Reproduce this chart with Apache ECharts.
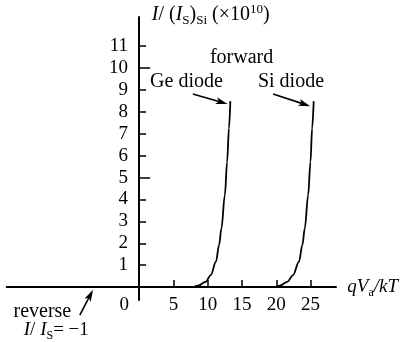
<!DOCTYPE html>
<html>
<head>
<meta charset="utf-8">
<script src="https://cdn.jsdelivr.net/npm/echarts@6/dist/echarts.min.js"></script>
<style>
  html, body { margin: 0; padding: 0; background: #fff; }
  #chart { width: 401px; height: 342px; }
</style>
</head>
<body>
<div id="chart"></div>
<script>
// Axis ticks and labels
const xTickValues = [5, 10, 15, 20, 25];
const xLabelValues = [5, 10, 15, 20, 25];
const originLabel = '0';
const yTickValues = [1, 2, 3, 4, 5, 6, 7, 8, 9, 10, 11];
const yLabelValues = [1, 2, 3, 4, 5, 6, 7, 8, 9, 10, 11];
const yMajorTickValues = [5, 10];

// Forward characteristics: qVa/kT against I/(Is)Si in units of 1e10
const geVoltage = [8.0, 8.6, 9.7, 10.45, 11.2, 11.66, 12.0, 12.5, 12.83, 13.1, 13.3];
const geCurrent = [0, 0.06, 0.24, 0.55, 1.16, 1.92, 2.68, 4.2, 5.72, 7.25, 8.49];
const siVoltage = [20.0, 20.5, 21.6, 22.45, 23.3, 23.8, 24.15, 24.64, 24.98, 25.22, 25.45];
const siCurrent = [0, 0.06, 0.24, 0.55, 1.16, 1.92, 2.68, 4.2, 5.72, 7.25, 8.49];

const FONT = '"Liberation Serif", "Times New Roman", serif';
const FS = 19;
const X_LABEL_MARGIN = 8;
const Y_LABEL_MARGIN = 11;

// Axis extents and plot box
const X_MIN = -19.3, X_MAX = 28.7;
const Y_MIN = -0.59, Y_MAX = 12.33;
const W = 401;
const GRID = { left: 6.7, right: 65, top: 17, bottom: 42 };
const gridW = W - GRID.left - GRID.right;

// Offset that carries the extra tick axis from the plot edge to x = 0
const yAxisShift = -((0 - X_MIN) / (X_MAX - X_MIN)) * gridW;

const chart = echarts.init(document.getElementById('chart'), null, { renderer: 'canvas' });

const pairs = (xs, ys) => xs.map((x, i) => [x, ys[i]]);
const curveStyle = { color: '#000', width: 1.8 };
const tickStyle = { color: '#000', width: 1.5 };

chart.setOption({
  animation: false,
  backgroundColor: '#fff',
  grid: Object.assign({ containLabel: false, outerBoundsMode: 'none' }, GRID),
  xAxis: {
    type: 'value',
    min: X_MIN,
    max: X_MAX,
    splitLine: { show: false },
    axisLine: { onZero: true, lineStyle: { color: '#000', width: 2 } },
    axisTick: { customValues: xTickValues, inside: true, length: 7, lineStyle: tickStyle },
    axisLabel: { show: false }
  },
  yAxis: [
    {
      type: 'value',
      min: Y_MIN,
      max: Y_MAX,
      splitLine: { show: false },
      axisLine: { onZero: true, lineStyle: { color: '#000', width: 2 } },
      axisTick: { customValues: yTickValues, inside: true, length: 7, lineStyle: tickStyle },
      axisLabel: { show: false }
    },
    {
      // longer ticks at 5 and 10 on the same vertical axis
      type: 'value',
      min: Y_MIN,
      max: Y_MAX,
      position: 'left',
      offset: yAxisShift,
      splitLine: { show: false },
      axisLine: { show: false, onZero: false },
      axisTick: { customValues: yMajorTickValues, inside: true, length: 11, lineStyle: tickStyle },
      axisLabel: { show: false }
    }
  ],
  series: [
    {
      name: 'Ge diode', type: 'line', data: pairs(geVoltage, geCurrent),
      smooth: 0.35, smoothMonotone: 'x', showSymbol: false, lineStyle: curveStyle
    },
    {
      name: 'Si diode', type: 'line', data: pairs(siVoltage, siCurrent),
      smooth: 0.35, smoothMonotone: 'x', showSymbol: false, lineStyle: curveStyle
    }
  ]
});

// Annotation anchors, in axis units
const arrows = [
  { from: [7.83, 8.81], to: [12.9, 8.36] },
  { from: [19.53, 8.81], to: [24.95, 8.26] },
  { from: [-8.64, -1.28], to: [-6.71, -0.12] }
];

function richFor(size) {
  const sub = Math.round(size * 0.65);
  return {
    n: { fontFamily: FONT, fontSize: size, fill: '#000' },
    i: { fontFamily: FONT, fontSize: size, fontStyle: 'italic', fill: '#000' },
    sub: { fontFamily: FONT, fontSize: sub, fill: '#000', padding: [12, 0, 0, 0] },
    sup: { fontFamily: FONT, fontSize: sub, fill: '#000', padding: [0, 0, 10, 0] }
  };
}

const labels = [
  { at: [14.93, 10.49], align: 'center', size: 20, text: '{n|forward}' },
  { at: [6.9, 9.37], align: 'center', size: 20, text: '{n|Ge diode}' },
  { at: [22.14, 9.37], align: 'center', size: 20, text: '{n|Si diode}' },
  { at: [1.85, 12.42], align: 'left', size: 20, text: '{i|I}{n|/ (}{i|I}{sub|S}{n|)}{sub|Si}{n| (×10}{sup|10}{n|)}' },
  { at: [30.35, 0.0], align: 'left', size: 19, text: '{i|qV}{sub|a}{i|/kT}' },
  { at: [-14.1, -1.14], align: 'center', size: 20, text: '{n|reverse}' },
  { at: [-12.07, -1.96], align: 'center', size: 19, text: '{i|I}{n|/ }{i|I}{sub|S}{n|= −1}' }
];

function arrowShapes(p0, p1) {
  const a = chart.convertToPixel({ gridIndex: 0 }, p0);
  const b = chart.convertToPixel({ gridIndex: 0 }, p1);
  const dx = b[0] - a[0], dy = b[1] - a[1];
  const len = Math.hypot(dx, dy);
  const ux = dx / len, uy = dy / len;
  const nx = -uy, ny = ux;
  const hl = 12, hw = 3.5, notch = 3;
  const bx = b[0] - ux * hl, by = b[1] - uy * hl;
  return [
    {
      type: 'line', silent: true,
      shape: { x1: a[0], y1: a[1], x2: b[0] - ux * (hl - notch), y2: b[1] - uy * (hl - notch) },
      style: { stroke: '#000', lineWidth: 1.6 }
    },
    {
      type: 'polygon', silent: true,
      shape: { points: [
        [b[0], b[1]],
        [bx + nx * hw, by + ny * hw],
        [b[0] - ux * (hl - notch), b[1] - uy * (hl - notch)],
        [bx - nx * hw, by - ny * hw]
      ] },
      style: { fill: '#000' }
    }
  ];
}

const graphics = [];
arrows.forEach(a => graphics.push(...arrowShapes(a.from, a.to)));
labels.forEach(l => {
  const p = chart.convertToPixel({ gridIndex: 0 }, l.at);
  graphics.push({
    type: 'text', silent: true, x: p[0], y: p[1],
    style: { text: l.text, rich: richFor(l.size), align: l.align, verticalAlign: 'middle', fill: '#000' }
  });
});

// Tick numbers, placed through the scales next to the crossing axes
const tickFont = FS + 'px ' + FONT;
const origin = chart.convertToPixel({ gridIndex: 0 }, [0, 0]);
xLabelValues.forEach(v => {
  const p = chart.convertToPixel({ gridIndex: 0 }, [v, 0]);
  graphics.push({
    type: 'text', silent: true, x: p[0], y: origin[1] + X_LABEL_MARGIN,
    style: { text: String(v), font: tickFont, align: 'center', verticalAlign: 'top', fill: '#000' }
  });
});
yLabelValues.forEach(v => {
  const p = chart.convertToPixel({ gridIndex: 0 }, [0, v]);
  graphics.push({
    type: 'text', silent: true, x: origin[0] - Y_LABEL_MARGIN, y: p[1],
    style: { text: String(v), font: tickFont, align: 'right', verticalAlign: 'middle', fill: '#000' }
  });
});
graphics.push({
  type: 'text', silent: true, x: origin[0] - 10, y: origin[1] + X_LABEL_MARGIN,
  style: { text: originLabel, font: tickFont, align: 'right', verticalAlign: 'top', fill: '#000' }
});
chart.setOption({ graphic: graphics });
</script>
</body>
</html>
